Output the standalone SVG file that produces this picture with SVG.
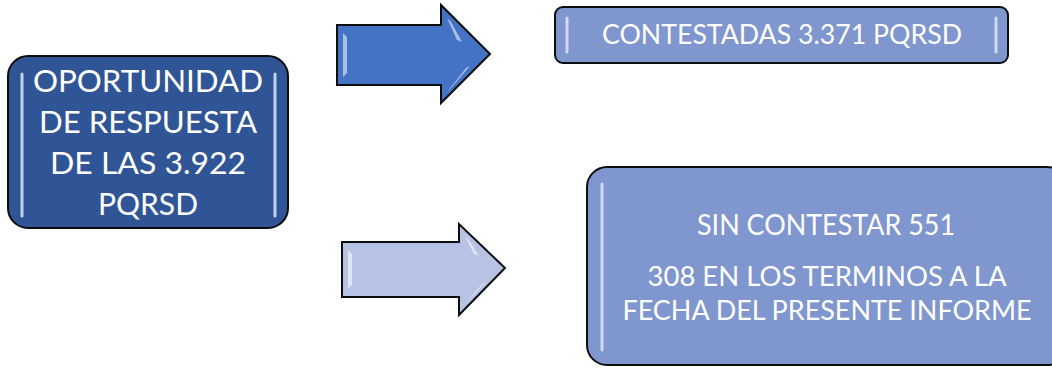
<svg xmlns="http://www.w3.org/2000/svg" width="1052" height="368" viewBox="0 0 1052 368">
<defs>
<style>
.box{stroke:#0d0d0d;stroke-width:2}
.arr{stroke:#0d0d0d;stroke-width:2;stroke-linejoin:miter}
.t{font-family:Lato,"Open Sans","Liberation Sans",sans-serif;fill:#ffffff;text-anchor:middle}
.hl{stroke:#dfe8fa;stroke-width:3;stroke-linecap:round;opacity:0.85}
.hla{fill:#ffffff;opacity:0.55}
</style>
<linearGradient id="vg" x1="0" y1="0" x2="0" y2="1">
<stop offset="0" stop-color="#ffffff" stop-opacity="0.3"/>
<stop offset="0.5" stop-color="#ffffff" stop-opacity="1"/>
<stop offset="1" stop-color="#ffffff" stop-opacity="0.3"/>
</linearGradient>
</defs>

<g id="connectors">
<g id="arrow-top">
<path class="arr" d="M337,25 L441,25 L441,5 L490,54 L441,103 L441,85 L337,85 Z" fill="#4472C4"/>
<path class="hla" d="M343,33 L347,37 L347,73 L343,77 Z"/>
<path class="hla" d="M447,18 L451,22 L462,42 L457,40 Z"/>
<path class="hla" d="M447,92 L451,88 L470,66 L466,68 Z"/>
</g>
<g id="arrow-bottom">
<path class="arr" d="M342,242 L459,242 L459,224 L505,268 L459,315 L459,297 L342,297 Z" fill="#B7C3E4"/>
<path class="hla" d="M348,250 L352,254 L352,285 L348,289 Z"/>
<path class="hla" d="M465,236 L469,240 L479,256 L474,254 Z"/>
<path class="hla" d="M465,304 L469,300 L486,282 L482,284 Z"/>
</g>
</g>

<g id="node-oportunidad">
<rect class="box" x="8" y="56" width="280" height="172" rx="20" ry="20" fill="#2F5597"/>
<line class="hl" x1="22" y1="74" x2="22" y2="216" stroke="url(#vg)"/>
<line class="hl" x1="275" y1="74" x2="275" y2="216" stroke="url(#vg)"/>
<text class="t" x="148" y="92" font-size="31" textLength="230" lengthAdjust="spacingAndGlyphs">OPORTUNIDAD</text>
<text class="t" x="148" y="133" font-size="31" textLength="218" lengthAdjust="spacingAndGlyphs">DE RESPUESTA</text>
<text class="t" x="148" y="174" font-size="31" textLength="196" lengthAdjust="spacingAndGlyphs">DE LAS 3.922</text>
<text class="t" x="148" y="215" font-size="31" textLength="100" lengthAdjust="spacingAndGlyphs">PQRSD</text>
</g>

<g id="node-contestadas">
<rect class="box" x="555" y="7" width="453" height="56" rx="8" ry="8" fill="#7F96CE"/>
<line class="hl" x1="567" y1="18" x2="567" y2="52" stroke="url(#vg)"/>
<line class="hl" x1="996" y1="18" x2="996" y2="52" stroke="url(#vg)"/>
<text class="t" x="782" y="44" font-size="27" textLength="360" lengthAdjust="spacingAndGlyphs">CONTESTADAS 3.371 PQRSD</text>
</g>

<g id="node-sin-contestar">
<rect class="box" x="587" y="167" width="480" height="198" rx="20" ry="20" fill="#7F96CE"/>
<line class="hl" x1="602" y1="184" x2="602" y2="350" stroke="url(#vg)"/>
<text class="t" x="826" y="235" font-size="28" textLength="258" lengthAdjust="spacingAndGlyphs">SIN CONTESTAR 551</text>
<text class="t" x="827" y="286" font-size="27" textLength="359" lengthAdjust="spacingAndGlyphs">308 EN LOS TERMINOS A LA</text>
<text class="t" x="827" y="320" font-size="27" textLength="409" lengthAdjust="spacingAndGlyphs">FECHA DEL PRESENTE INFORME</text>
</g>
</svg>
